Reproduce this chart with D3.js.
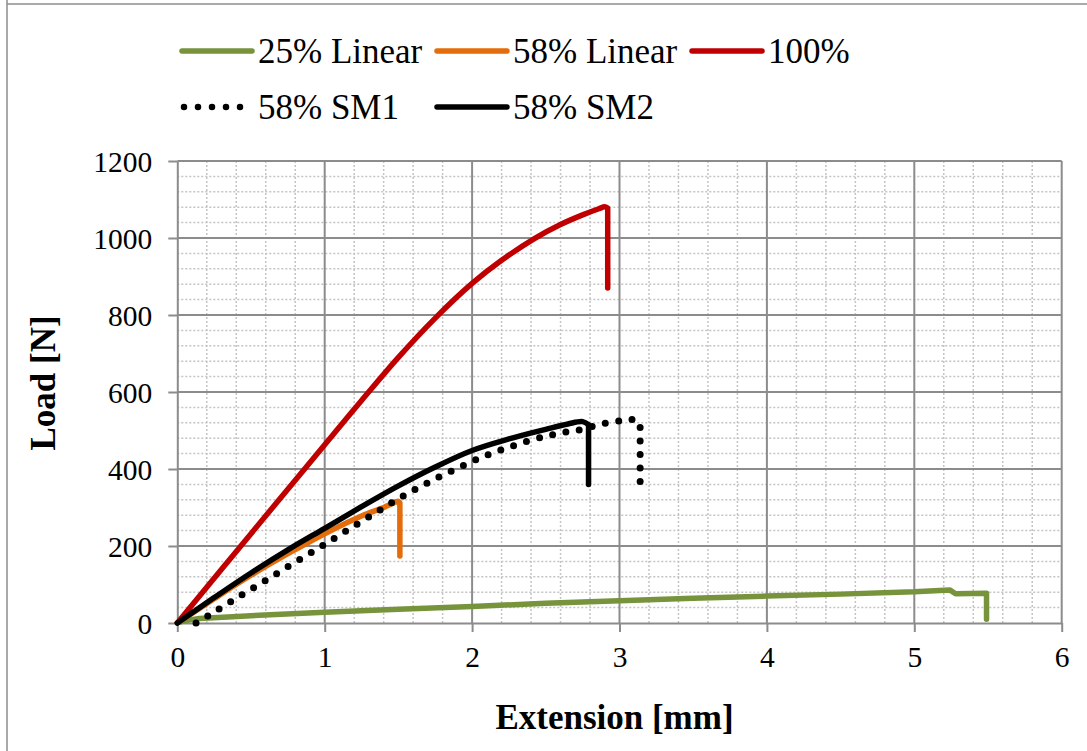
<!DOCTYPE html>
<html>
<head>
<meta charset="utf-8">
<script src="https://cdn.jsdelivr.net/npm/d3@7"></script>
<style>
  html, body { margin: 0; padding: 0; background: #fff; }
  svg { display: block; font-family: "Liberation Serif", "Times New Roman", serif; }
</style>
</head>
<body>
<svg id="chart" width="1087" height="751"></svg>
<script>
// Tensile test curves: load vs extension
const xTicks = [0, 1, 2, 3, 4, 5, 6];
const yTicks = [0, 200, 400, 600, 800, 1000, 1200];

const seriesNames = ["25% Linear", "58% Linear", "100%", "58% SM1", "58% SM2"];

const ext25 = [0, 0.05, 0.15, 0.5, 1, 1.5, 2, 2.5, 3, 3.5, 4, 4.5, 5, 5.24, 5.28, 5.49, 5.49];
const load25 = [0, 6, 12, 19, 28, 36, 43, 51, 58, 64, 70, 75, 81, 86, 76, 77, 10];

const ext58L = [0, 0.25, 0.5, 0.75, 1, 1.25, 1.4, 1.5, 1.51, 1.51];
const load58L = [0, 63, 124, 180, 232, 278, 300, 316, 312, 174];

const ext100 = [0, 0.5, 1, 1.25, 1.5, 1.75, 2, 2.2, 2.42, 2.6, 2.75, 2.86, 2.9, 2.92, 2.92];
const load100 = [0, 232, 463, 578, 690, 792, 882, 942, 998, 1035, 1060, 1076, 1081, 1078, 870];

const extSM1 = [0.127, 0.22, 0.4, 0.585, 0.774, 0.957, 1.136, 1.327, 1.515, 1.697, 1.9, 2.1, 2.3, 2.5, 2.65, 2.75, 2.85, 2.95, 3.05, 3.12, 3.14, 3.14];
const loadSM1 = [0, 21, 64, 107, 152, 194, 237, 282, 326, 364, 402, 436, 463, 485, 497, 503, 514, 522, 527, 527, 515, 360];

const extSM2 = [0, 0.25, 0.5, 0.75, 1, 1.25, 1.5, 1.75, 2, 2.25, 2.5, 2.65, 2.75, 2.79, 2.79];
const loadSM2 = [0, 66, 130, 190, 246, 302, 356, 405, 448, 478, 503, 517, 523, 515, 360];

const svg = d3.select("#chart");
const W = 1087, H = 751;
const plot = { left: 177.3, right: 1061.7, top: 161, bottom: 623 };

const x = d3.scaleLinear().domain([0, 6]).range([plot.left, plot.right]);
const y = d3.scaleLinear().domain([0, 1200]).range([plot.bottom, plot.top]);

// Outer frame
svg.append("line").attr("x1", 7).attr("x2", 7).attr("y1", 0).attr("y2", H)
  .attr("stroke", "#8c8c8c").attr("stroke-width", 1.5);
svg.append("line").attr("x1", 7).attr("x2", W).attr("y1", 4).attr("y2", 4)
  .attr("stroke", "#8c8c8c").attr("stroke-width", 1.5);

// Minor grid
const grid = svg.append("g");
const xMinor = d3.range(0, 30).map(i => i * 0.2).filter(v => Math.abs(v - Math.round(v)) > 1e-6);
const yMinor = d3.range(0, 30).map(i => i * 40).filter(v => v % 200 !== 0);
grid.selectAll(".xm").data(xMinor).join("line")
  .attr("x1", d => x(d)).attr("x2", d => x(d)).attr("y1", plot.top).attr("y2", plot.bottom)
  .attr("stroke", "#c4c4c4").attr("stroke-width", 1.5).attr("stroke-dasharray", "2,2");
grid.selectAll(".ym").data(yMinor).join("line")
  .attr("x1", plot.left).attr("x2", plot.right).attr("y1", d => y(d)).attr("y2", d => y(d))
  .attr("stroke", "#c4c4c4").attr("stroke-width", 1.5).attr("stroke-dasharray", "2,2");

// Major grid
grid.selectAll(".xM").data(xTicks.slice(1)).join("line")
  .attr("x1", d => x(d)).attr("x2", d => x(d)).attr("y1", plot.top).attr("y2", plot.bottom)
  .attr("stroke", "#8c8c8c").attr("stroke-width", 2);
grid.selectAll(".yM").data(yTicks.slice(1)).join("line")
  .attr("x1", plot.left).attr("x2", plot.right).attr("y1", d => y(d)).attr("y2", d => y(d))
  .attr("stroke", "#8c8c8c").attr("stroke-width", 2);

// Axes
const xAxis = svg.append("g").attr("transform", `translate(0,${plot.bottom})`)
  .call(d3.axisBottom(x).tickValues(xTicks).tickFormat(d3.format("d")).tickSize(9).tickSizeOuter(0).tickPadding(14));
const yAxis = svg.append("g").attr("transform", `translate(${plot.left},0)`)
  .call(d3.axisLeft(y).tickValues(yTicks).tickFormat(d3.format("d")).tickSize(9).tickSizeOuter(0).tickPadding(16));
[xAxis, yAxis].forEach(g => {
  g.select(".domain").attr("stroke", "#8c8c8c").attr("stroke-width", 2);
  g.selectAll(".tick line").attr("stroke", "#8c8c8c").attr("stroke-width", 2);
  g.selectAll(".tick text").attr("fill", "#000").attr("font-size", 29.5)
    .attr("font-family", "Liberation Serif, Times New Roman, serif");
});
yAxis.selectAll(".tick text").attr("dy", "0.34em");

// Series: smooth loading branch, straight vertical failure drop
const zip = (a, b) => a.map((v, i) => [v, b[i]]);
const smooth = d3.line().x(d => x(d[0])).y(d => y(d[1])).curve(d3.curveCatmullRom.alpha(0.5));
const straight = d3.line().x(d => x(d[0])).y(d => y(d[1]));
function seriesPath(pts, curved) {
  if (!curved) return straight(pts);
  const n = pts.length;
  // the last segment with repeated extension is the failure drop
  const head = pts.slice(0, n - 1);
  const tail = pts.slice(n - 2);
  return smooth(head) + straight(tail).replace(/^M/, "L").replace(/^L[^L]*/, "");
}

const series = [
  { name: seriesNames[0], pts: zip(ext25, load25), color: "#77933C", dash: null, curved: false },
  { name: seriesNames[1], pts: zip(ext58L, load58L), color: "#E46C0A", dash: null, curved: true },
  { name: seriesNames[2], pts: zip(ext100, load100), color: "#C00000", dash: null, curved: true },
  { name: seriesNames[4], pts: zip(extSM2, loadSM2), color: "#000000", dash: null, curved: true },
  { name: seriesNames[3], pts: zip(extSM1, loadSM1), color: "#000000", dash: "0,13.5", curved: true }
];

svg.append("g").selectAll("path").data(series).join("path")
  .attr("d", d => seriesPath(d.pts, d.curved))
  .attr("fill", "none")
  .attr("stroke", d => d.color)
  .attr("stroke-width", d => d.dash ? 7 : 5.5)
  .attr("stroke-linecap", "round")
  .attr("stroke-linejoin", "round")
  .attr("stroke-dasharray", d => d.dash);

// Legend
const legendItems = [
  { name: seriesNames[0], color: "#77933C", dash: null, x: 182, y: 51 },
  { name: seriesNames[1], color: "#E46C0A", dash: null, x: 437, y: 51 },
  { name: seriesNames[2], color: "#C00000", dash: null, x: 692, y: 51 },
  { name: seriesNames[3], color: "#000000", dash: "0,14", x: 184, y: 107 },
  { name: seriesNames[4], color: "#000000", dash: null, x: 437, y: 107 }
];
const lg = svg.append("g").selectAll("g").data(legendItems).join("g")
  .attr("transform", d => `translate(${d.x},${d.y})`);
lg.append("line").attr("x1", 0).attr("x2", 70).attr("y1", 0).attr("y2", 0)
  .attr("stroke", d => d.color)
  .attr("stroke-width", d => d.dash ? 6.5 : 5.5)
  .attr("stroke-linecap", "round")
  .attr("stroke-dasharray", d => d.dash);
lg.append("text").attr("x", d => d.dash ? 74 : 76).attr("y", 12)
  .attr("font-size", 35).attr("fill", "#000").text(d => d.name);

// Axis titles
svg.append("text").attr("x", (plot.left + plot.right) / 2 - 5).attr("y", 729)
  .attr("text-anchor", "middle").attr("font-size", 35).attr("font-weight", "bold")
  .text("Extension [mm]");
svg.append("text").attr("transform", "translate(55,383) rotate(-90)")
  .attr("text-anchor", "middle").attr("font-size", 35).attr("font-weight", "bold")
  .text("Load [N]");
</script>
</body>
</html>
